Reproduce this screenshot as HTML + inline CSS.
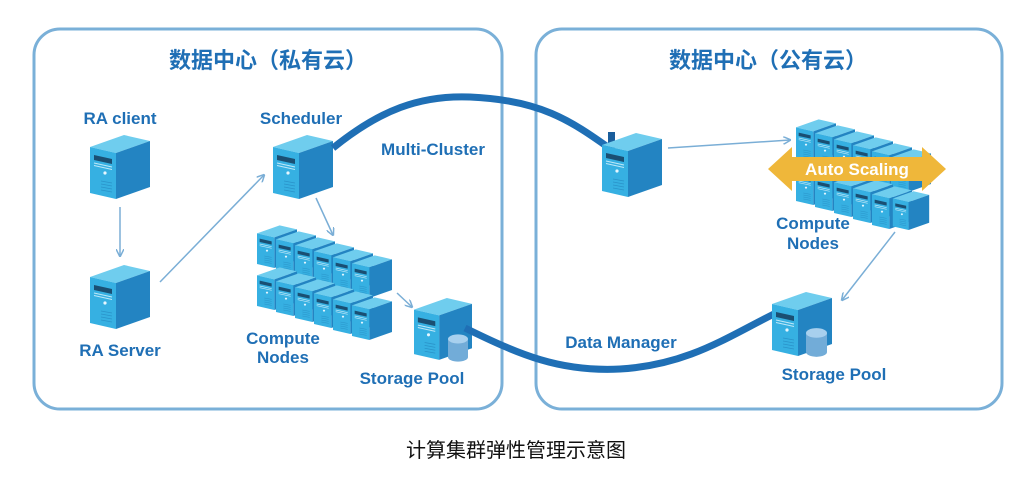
<!DOCTYPE html>
<html><head><meta charset="utf-8"><style>
html,body{margin:0;padding:0;background:#fff;}
svg{display:block}
text{font-family:"Liberation Sans","Noto Sans CJK SC",sans-serif;}
.l{font-weight:bold;font-size:17px;fill:#1f6fb5;text-anchor:middle}
</style></head><body>
<svg width="1032" height="483" viewBox="0 0 1032 483" xmlns="http://www.w3.org/2000/svg">
<defs>
<symbol id="srv" viewBox="0 0 60 66">
<polygon points="0,14 34,2 60,8 26,20" fill="#6fcdee"/>
<polygon points="26,20 60,8 60,54 26,66" fill="#2384c2"/>
<polygon points="0,14 26,20 26,66 0,60" fill="#36b0e2"/>
<polygon points="4,22 22,26 22,31 4,27" fill="#1a4f73"/>
<line x1="4" y1="30" x2="22" y2="34" stroke="#bfe8f8" stroke-width="1"/>
<line x1="4" y1="32.5" x2="22" y2="36.5" stroke="#bfe8f8" stroke-width="1"/>
<circle cx="15" cy="40" r="1.6" fill="#e6f7ff"/>
<g stroke="#2a93c9" stroke-width="0.8"><line x1="11" y1="48" x2="22" y2="50"/><line x1="11" y1="51" x2="22" y2="53"/><line x1="11" y1="54" x2="22" y2="56"/><line x1="11" y1="57" x2="22" y2="59"/></g>
</symbol>
<symbol id="cyl" viewBox="0 0 22 30">
<rect x="0" y="5" width="22" height="20" fill="#72acd8"/>
<ellipse cx="11" cy="25" rx="11" ry="5" fill="#72acd8"/>
<ellipse cx="11" cy="5" rx="11" ry="5" fill="#a8d0ee"/>
</symbol>
<marker id="a" markerWidth="8" markerHeight="8" refX="7" refY="4" orient="auto" markerUnits="userSpaceOnUse"><path d="M0,0 L8,4 L0,8" fill="none" stroke="#7aaed6" stroke-width="1.5"/></marker>
</defs>
<rect x="34" y="29" width="468" height="380" rx="26" fill="none" stroke="#7ab0d8" stroke-width="3"/>
<rect x="536" y="29" width="466" height="380" rx="26" fill="none" stroke="#7ab0d8" stroke-width="3"/>
<text x="268" y="68" font-size="22" font-weight="bold" fill="#1f6fb5" text-anchor="middle">数据中心（私有云）</text>
<text x="768" y="68" font-size="22" font-weight="bold" fill="#1f6fb5" text-anchor="middle">数据中心（公有云）</text>

<!-- left -->
<text class="l" x="120" y="124">RA client</text>
<use href="#srv" x="90" y="133" width="60" height="66"/>
<line x1="120" y1="207" x2="120" y2="256" stroke="#7aaed6" stroke-width="1.5" marker-end="url(#a)"/>
<use href="#srv" x="90" y="263" width="60" height="66"/>
<text class="l" x="120" y="356">RA Server</text>
<line x1="160" y1="282" x2="264" y2="175" stroke="#7aaed6" stroke-width="1.5" marker-end="url(#a)"/>
<text class="l" x="301" y="124">Scheduler</text>
<use href="#srv" x="273" y="133" width="60" height="66"/>
<line x1="316" y1="198" x2="333" y2="235" stroke="#7aaed6" stroke-width="1.5" marker-end="url(#a)"/>
<text class="l" x="433" y="155">Multi-Cluster</text>

<!-- compute left -->
<g>
<use href="#srv" x="257" y="224" width="40" height="44"/>
<use href="#srv" x="276" y="230" width="40" height="44"/>
<use href="#srv" x="295" y="236" width="40" height="44"/>
<use href="#srv" x="314" y="242" width="40" height="44"/>
<use href="#srv" x="333" y="248" width="40" height="44"/>
<use href="#srv" x="352" y="254" width="40" height="44"/>
<use href="#srv" x="257" y="266" width="40" height="44"/>
<use href="#srv" x="276" y="272" width="40" height="44"/>
<use href="#srv" x="295" y="278" width="40" height="44"/>
<use href="#srv" x="314" y="284" width="40" height="44"/>
<use href="#srv" x="333" y="290" width="40" height="44"/>
<use href="#srv" x="352" y="296" width="40" height="44"/>
</g>
<text class="l" x="283" y="344">Compute</text>
<text class="l" x="283" y="363">Nodes</text>
<line x1="397" y1="293" x2="412" y2="307" stroke="#7aaed6" stroke-width="1.5" marker-end="url(#a)"/>
<use href="#srv" x="414" y="295" width="58" height="66"/>
<use href="#cyl" x="448" y="334" width="20" height="28"/>
<text class="l" x="412" y="384">Storage Pool</text>

<!-- thick connectors -->
<path d="M333,148 C380,110 420,95 470,97 C540,100 570,120 612,150" fill="none" stroke="#1f6fb5" stroke-width="7"/>
<rect x="608" y="132" width="7" height="18" fill="#1a5e9c"/>
<path d="M465,328 C520,355 560,372 620,369 C690,365 730,335 782,310" fill="none" stroke="#1f6fb5" stroke-width="7"/>
<text class="l" x="621" y="348">Data Manager</text>

<!-- right -->
<use href="#srv" x="602" y="130" width="60" height="68"/>
<line x1="668" y1="148" x2="790" y2="140" stroke="#7aaed6" stroke-width="1.5" marker-end="url(#a)"/>
<g>
<use href="#srv" x="796" y="117" width="40" height="46"/>
<use href="#srv" x="815" y="123" width="40" height="46"/>
<use href="#srv" x="834" y="129" width="40" height="46"/>
<use href="#srv" x="853" y="135" width="40" height="46"/>
<use href="#srv" x="872" y="141" width="40" height="46"/>
<use href="#srv" x="891" y="147" width="40" height="46"/>
<use href="#srv" x="796" y="160" width="40" height="46"/>
<use href="#srv" x="815" y="166" width="40" height="46"/>
<use href="#srv" x="834" y="172" width="40" height="46"/>
<use href="#srv" x="853" y="178" width="40" height="46"/>
<use href="#srv" x="872" y="184" width="40" height="46"/>
<use href="#srv" x="891" y="190" width="40" height="40"/>
</g>
<polygon points="768,169 792,147 792,157 922,157 922,147 946,169 922,191 922,181 792,181 792,191" fill="#efb73a"/>
<text x="857" y="175" font-size="17" font-weight="bold" fill="#fff" text-anchor="middle">Auto Scaling</text>
<text class="l" x="813" y="229">Compute</text>
<text class="l" x="813" y="249">Nodes</text>
<line x1="895" y1="232" x2="842" y2="300" stroke="#7aaed6" stroke-width="1.5" marker-end="url(#a)"/>
<use href="#srv" x="772" y="290" width="60" height="66"/>
<use href="#cyl" x="806" y="328" width="21" height="29"/>
<text class="l" x="834" y="380">Storage Pool</text>

<text x="516" y="457" font-size="20" fill="#111" text-anchor="middle">计算集群弹性管理示意图</text>
</svg>
</body></html>
